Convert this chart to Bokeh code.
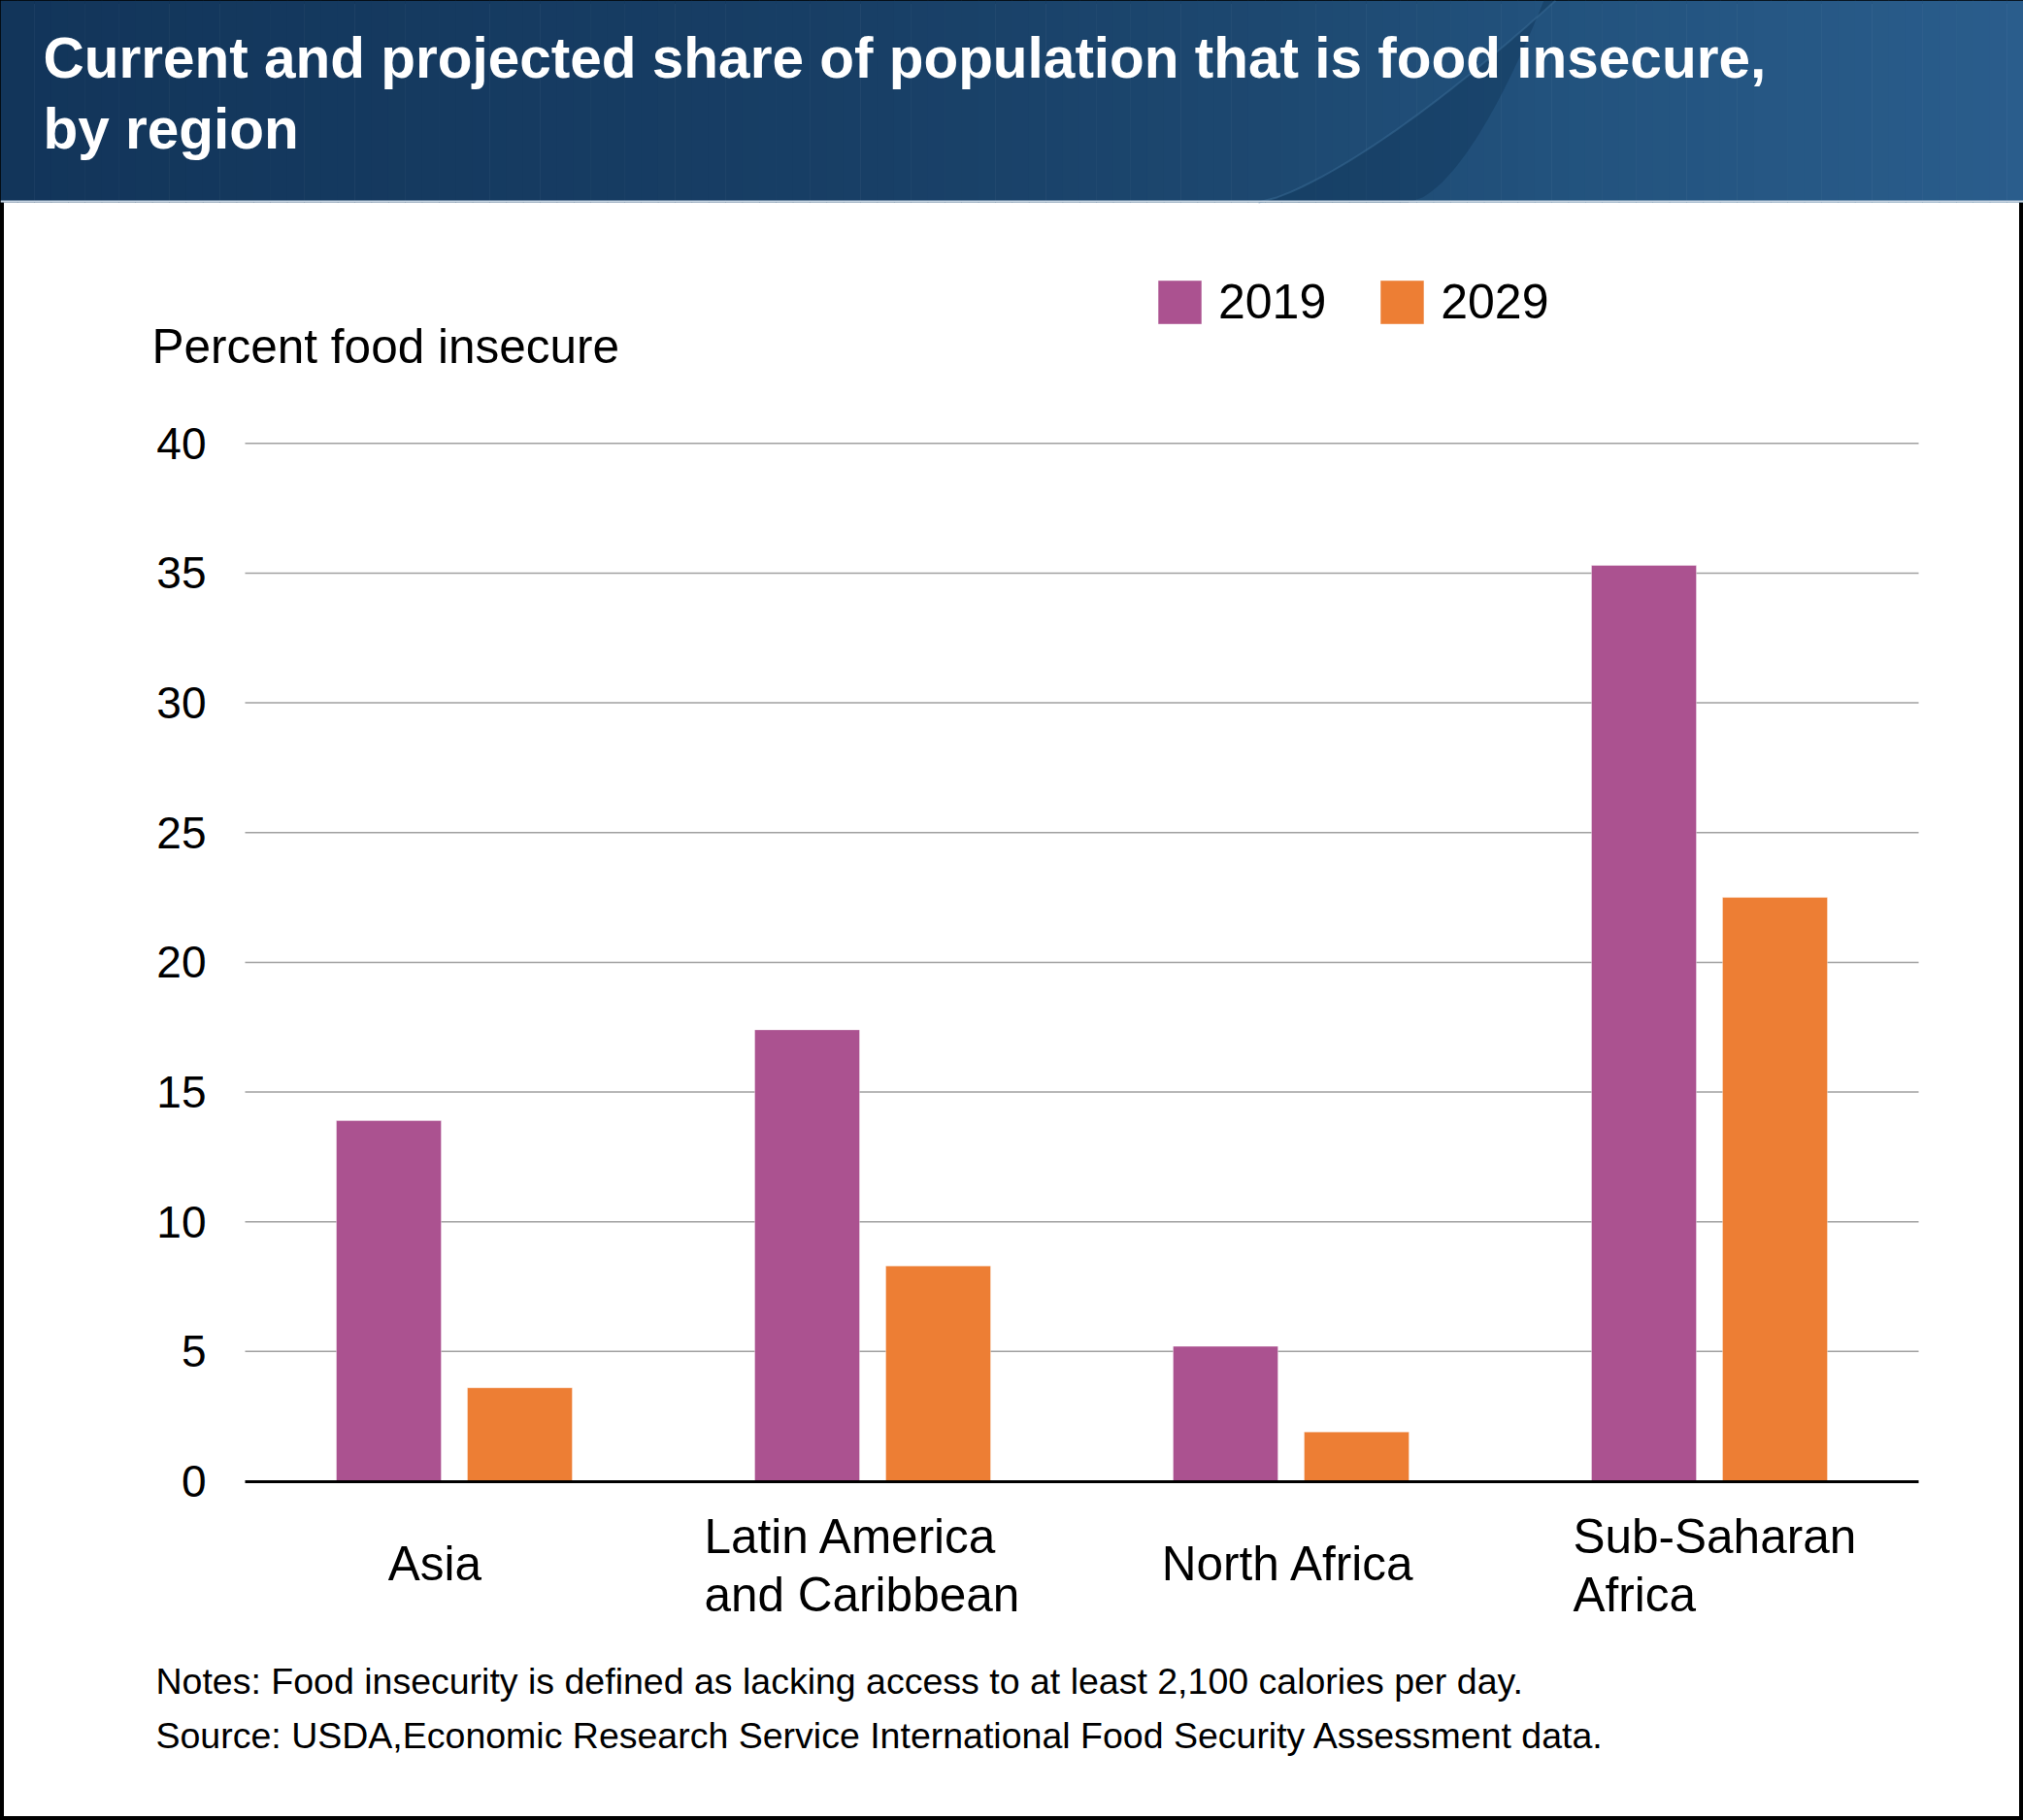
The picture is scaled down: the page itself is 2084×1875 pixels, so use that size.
import numpy as np
from bokeh.plotting import figure
from bokeh.models import Range1d, FixedTicker, Legend, LegendItem, ColumnDataSource
from bokeh.transform import dodge
from bokeh.embed import file_html
from bokeh.resources import INLINE
from bokeh.core.properties import value

# ---------------- data ----------------
title_lines = ["Current and projected share of population that is food insecure,",
               "by region"]
regions = ["Asia", "Latin America and Caribbean", "North Africa", "Sub-Saharan Africa"]
region_label_lines = [["Asia"], ["Latin America", "and Caribbean"], ["North Africa"],
                      ["Sub-Saharan", "Africa"]]
years = ["2019", "2029"]
share_2019 = [13.9, 17.4, 5.2, 35.3]
share_2029 = [3.6, 8.3, 1.9, 22.5]
y_ticks = [0, 5, 10, 15, 20, 25, 30, 35, 40]
y_axis_title = "Percent food insecure"
notes_lines = ["Notes: Food insecurity is defined as lacking access to at least 2,100 calories per day.",
               "Source: USDA,Economic Research Service International Food Security Assessment data."]
bar_colors = ["#AB5290", "#ED7E34"]

FONT = "Liberation Sans"
W, H = 2084, 1875
HEAD_H = 208

# plot-area placement on the page (pixels)
F_LEFT, F_RIGHT, F_TOP, F_BOTTOM = 252.0, 1976.0, 456.3, 1525.5
Y_MAX = 40.0
xpx = (F_RIGHT - F_LEFT) / len(regions)
ypx = (F_BOTTOM - F_TOP) / Y_MAX

p = figure(width=W, height=H,
           x_range=Range1d(-F_LEFT / xpx, (W - F_LEFT) / xpx),
           y_range=Range1d(-(H - F_BOTTOM) / ypx, F_BOTTOM / ypx),
           output_backend="svg", toolbar_location=None, title=None, min_border=0)
p.extra_x_ranges = {"px": Range1d(0, W)}
p.extra_y_ranges = {"px": Range1d(H, 0)}
p.background_fill_color = "white"
p.border_fill_color = "white"
p.grid.visible = False
p.outline_line_color = "black"
p.outline_line_width = 7

# ---------------- header band ----------------
stops_x = [0, 900, 1300, 1600, W]
stops_c = [(0x12, 0x35, 0x5a), (0x18, 0x3f, 0x66), (0x1d, 0x48, 0x70), (0x22, 0x52, 0x7d), (0x2a, 0x5d, 0x8c)]
n = 120
edges = np.linspace(0, W, n + 1)
mids = (edges[:-1] + edges[1:]) / 2
cols = []
for m in mids:
    rgb = [int(round(np.interp(m, stops_x, [c[k] for c in stops_c]))) for k in range(3)]
    cols.append("#%02x%02x%02x" % tuple(rgb))
p.quad(left=edges[:-1], right=edges[1:] + 0.6, bottom=HEAD_H, top=0, fill_color=cols,
       line_color=None, x_range_name="px", y_range_name="px")

t = np.linspace(0, 1, 40)
cx1 = 1296 + 306 * t ** 0.75
cy1 = HEAD_H - HEAD_H * t
cx2 = 1450 + 140 * t ** 0.6
p.patch(list(cx1) + list(cx2[::-1]), list(cy1) + list(cy1[::-1]), fill_color="#0f3558",
        fill_alpha=0.45, line_color=None, x_range_name="px", y_range_name="px")
p.line(cx1, cy1, line_color="#3a6b96", line_alpha=0.5, line_width=2,
       x_range_name="px", y_range_name="px")
p.quad(left=0, right=W, bottom=HEAD_H, top=HEAD_H - 2, fill_color="#c5d3e0", line_color=None,
       x_range_name="px", y_range_name="px")
p.text(x=[44, 44], y=[59, 132], text=title_lines, text_font=value(FONT),
       text_font_style="bold", text_font_size="58.5px", text_color="white",
       text_baseline="alphabetic", text_align="left", x_range_name="px", y_range_name="px")

# ---------------- gridlines ----------------
grid_vals = y_ticks[1:]
p.segment(x0=[0] * len(grid_vals), x1=[len(regions)] * len(grid_vals), y0=grid_vals, y1=grid_vals,
          line_color="#a0a0a0", line_width=1.5)

# ---------------- bars ----------------
src = ColumnDataSource(dict(x=np.arange(len(regions)) + 0.5, v19=share_2019, v29=share_2029))
bw = 0.2506
off = 0.1566
r1 = p.vbar(x=dodge("x", -off), top="v19", bottom=0, width=bw, source=src,
            fill_color=bar_colors[0], line_color="white", line_alpha=0.35, line_width=1)
r2 = p.vbar(x=dodge("x", off), top="v29", bottom=0, width=bw, source=src,
            fill_color=bar_colors[1], line_color="white", line_alpha=0.35, line_width=1)

# ---------------- axes ----------------
yax = p.yaxis[0]
yax.fixed_location = 0
yax.bounds = (0, Y_MAX)
yax.ticker = FixedTicker(ticks=y_ticks)
yax.major_tick_out = 0
yax.major_tick_in = 0
yax.minor_tick_out = 0
yax.minor_tick_in = 0
yax.axis_line_color = None
yax.major_label_standoff = 40
yax.major_label_text_font = FONT
yax.major_label_text_font_size = "46px"
yax.major_label_text_color = "black"

xax = p.xaxis[0]
xax.fixed_location = 0
xax.bounds = (0, len(regions))
xax.ticker = FixedTicker(ticks=[])
xax.axis_line_color = "black"
xax.axis_line_width = 3
xax.major_tick_out = 0
xax.major_tick_in = 0
xax.minor_tick_out = 0
xax.minor_tick_in = 0
xax.major_label_text_font_size = "0px"

# ---------------- legend ----------------
legend = Legend(items=[LegendItem(label=years[0], renderers=[r1]),
                       LegendItem(label=years[1], renderers=[r2])],
                location=(1187, H - 340.4), orientation="horizontal",
                glyph_width=56, glyph_height=56, label_height=56,
                label_text_font=FONT, label_text_font_size="50px", label_text_color="black",
                label_standoff=12, spacing=50, padding=0, margin=0,
                border_line_color=None, background_fill_alpha=0)
p.add_layout(legend)

# ---------------- texts ----------------
p.text(x=[156], y=[356], text=[y_axis_title], text_font=value(FONT), text_font_size="49.5px",
       text_color="black", text_align="left", text_baseline="alphabetic",
       x_range_name="px", y_range_name="px")

lab_x, lab_y, lab_t, lab_a = [], [], [], []
anchors = [(447.5, "center"), (725, "left"), (1327, "center"), (1620, "left")]
for (ax, al), lines in zip(anchors, region_label_lines):
    ys = [1609.5] if len(lines) == 1 else [1581.5, 1641.5]
    for line, yy in zip(lines, ys):
        lab_x.append(ax); lab_y.append(yy); lab_t.append(line); lab_a.append(al)
p.text(x=lab_x, y=lab_y, text=lab_t, text_align=lab_a, text_font=value(FONT),
       text_font_size="49.5px", text_color="black", text_baseline="alphabetic",
       x_range_name="px", y_range_name="px")

p.text(x=[160, 160], y=[1731, 1787], text=notes_lines, text_font=value(FONT),
       text_font_size="37.5px", text_color="black", text_align="left", text_baseline="alphabetic",
       x_range_name="px", y_range_name="px")

open("out.html", "w").write(file_html(p, INLINE))
